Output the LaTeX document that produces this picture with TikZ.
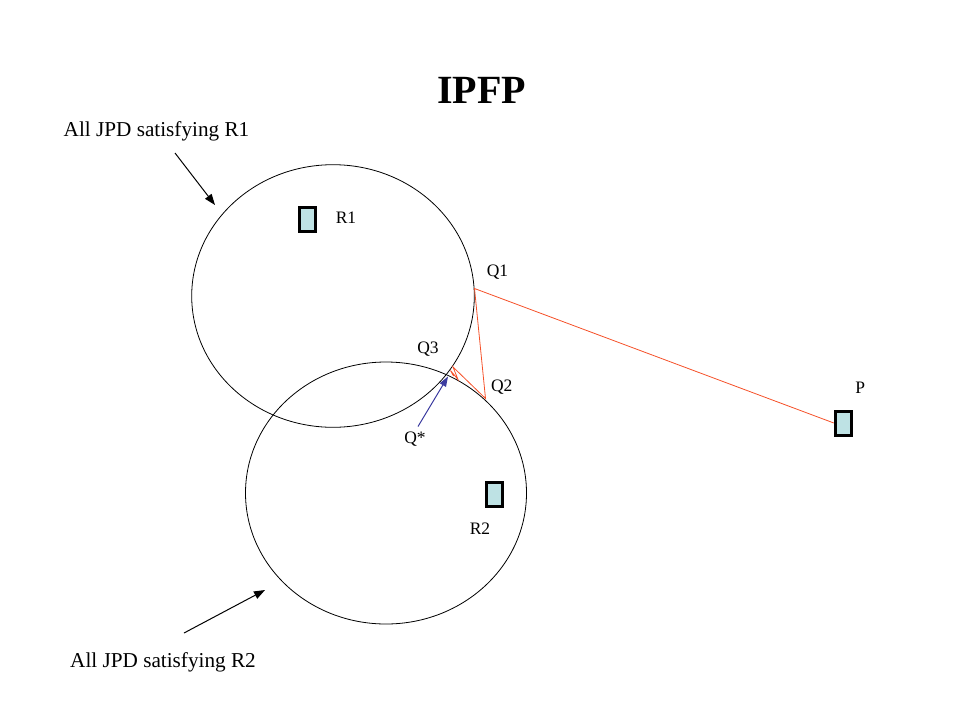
\documentclass[tikz,border=0pt]{standalone}
\usepackage{fontspec}
\setmainfont{Liberation Serif}
\usetikzlibrary{arrows.meta}
\definecolor{boxfill}{RGB}{190,226,228}
\definecolor{iterred}{RGB}{245,80,40}
\definecolor{qblue}{RGB}{60,60,160}
\tikzset{
  setline/.style={draw=black, line width=0.8pt},
  cbox/.style={draw=black, line width=3pt, fill=boxfill, minimum width=16pt, minimum height=24pt, inner sep=0pt},
  lbl/.style={font=\fontsize{17.5}{20}\selectfont, anchor=base, inner sep=0pt},
  biglbl/.style={font=\fontsize{21.2}{24}\selectfont, anchor=base, inner sep=0pt},
  iter/.style={draw=iterred, line width=0.8pt},
  pointer/.style={draw=black, line width=1pt, -{Triangle[length=11pt,width=8pt]}},
}
\begin{document}
\begin{tikzpicture}[x=1pt,y=-1pt]
\useasboundingbox (0,0) rectangle (960,720);
% title
\node[font=\fontsize{40}{44}\selectfont\bfseries, anchor=base, inner sep=0pt] (title) at (481.7,103.3) {IPFP};
% constraint sets
\draw[setline] (333,296) ellipse [x radius=141.3, y radius=131.3];
\draw[setline] (386,493) ellipse [x radius=140.5, y radius=131];
% boxes
\node[cbox] (r1box) at (307,219) {};
\node[cbox] (r2box) at (494,494) {};
\node[cbox] (pbox) at (843.3,423) {};
% labels
\node[biglbl] (lab1) at (156.5,136) {All JPD satisfying R1};
\node[biglbl] (lab2) at (163,667.7) {All JPD satisfying R2};
\node[lbl] (r1) at (346,223.5) {R1};
\node[lbl] (r2) at (480,534) {R2};
\node[lbl] (p) at (860.3,393) {P};
\node[lbl] (q1) at (497.5,276.5) {Q1};
\node[lbl] (q2) at (501.7,391) {Q2};
\node[lbl] (q3) at (428,353) {Q3};
\node[lbl] (qs) at (415,443) {Q*};
% iteration points
\coordinate (Q1) at (474.5,288.5);
\coordinate (Q2) at (485.5,398.5);
\coordinate (Q3) at (453,367);
\coordinate (Q4) at (458,379.5);
\coordinate (Q5) at (450.5,370.5);
\coordinate (Q6) at (453.5,376);
\coordinate (Qstar) at (448,376.5);
\coordinate (Qtail) at (418,426.5);
% iterations
\draw[iter] (pbox.west) -- (Q1) -- (Q2) -- (Q3) -- (Q4) -- (Q5) -- (Q6);
% arrow to the limit
\draw[draw=qblue, line width=1pt, -{Triangle[length=10pt,width=7pt]}, fill=qblue] (Qtail) -- (Qstar);
% pointers
\coordinate (a1s) at (175,153);
\coordinate (a1e) at (215,205);
\coordinate (a2s) at (184,633);
\coordinate (a2e) at (265,590);
\draw[pointer] (a1s) -- (a1e);
\draw[pointer] (a2s) -- (a2e);
\end{tikzpicture}
\end{document}
